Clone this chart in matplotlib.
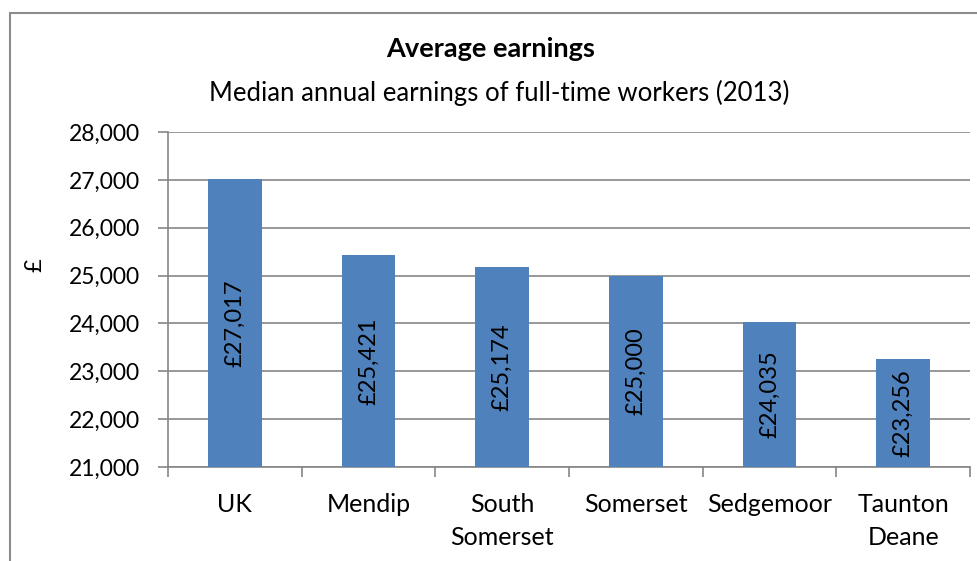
import matplotlib.pyplot as plt
from matplotlib.patches import Rectangle

plt.rcParams['font.family'] = ['Lato', 'DejaVu Sans']

areas = ['UK', 'Mendip', 'South\nSomerset', 'Somerset', 'Sedgemoor', 'Taunton\nDeane']
earnings = [27017, 25421, 25174, 25000, 24035, 23256]
yticks = [21000, 22000, 23000, 24000, 25000, 26000, 27000, 28000]

W, H = 978, 561
fig = plt.figure(figsize=(W / 100, H / 100), dpi=100)
ax = fig.add_axes([168 / W, 1 - 467 / H, (970 - 168) / W, (467 - 132) / H])

# outer chart border, cropped at right and bottom
fig.patches.append(Rectangle((10 / W, -0.05), 1.05, 1 - 13 / H + 0.05,
                             transform=fig.transFigure, fill=False,
                             edgecolor='#8c8c8c', linewidth=1.5))

x = list(range(len(areas)))
bars = ax.bar(x, earnings, width=0.4, color='#4f81bd', zorder=3)
for xi, v in zip(x, earnings):
    ax.text(xi, (v + 21000) / 2, '£{:,}'.format(v), rotation=90,
            ha='center', va='center', fontsize=17, color='black', zorder=4)

ax.set_xlim(-0.5, len(areas) - 0.5)
ax.set_ylim(21000, 28000)
ax.set_yticks(yticks)
ax.set_yticklabels(['{:,}'.format(t) for t in yticks], fontsize=16.5)
ax.set_xticks(x)
ax.set_xticklabels(areas, fontsize=18, linespacing=1.5)
ax.set_xticks([i - 0.5 for i in range(len(areas) + 1)], minor=True)
ax.tick_params(axis='x', which='major', length=0, pad=19)
ax.tick_params(axis='x', which='minor', length=7, color='#868686', width=1.2)
ax.tick_params(axis='y', length=7, color='#868686', width=1.2, pad=13)
ax.grid(axis='y', color='#868686', linewidth=1.2, zorder=0)
for s in ['top', 'right']:
    ax.spines[s].set_visible(False)
for s in ['left', 'bottom']:
    ax.spines[s].set_color('#868686')
    ax.spines[s].set_linewidth(1.2)

fig.text(491 / W, 1 - 49 / H, 'Average earnings', ha='center', va='center',
         fontsize=19.5, fontweight='bold')
fig.text(499 / W, 1 - 93 / H, 'Median annual earnings of full-time workers (2013)',
         ha='center', va='center', fontsize=18.5)
fig.text(35 / W, 1 - 265 / H, '£', rotation=90, ha='center', va='center', fontsize=17)

fig.savefig('out.png', dpi=100)
